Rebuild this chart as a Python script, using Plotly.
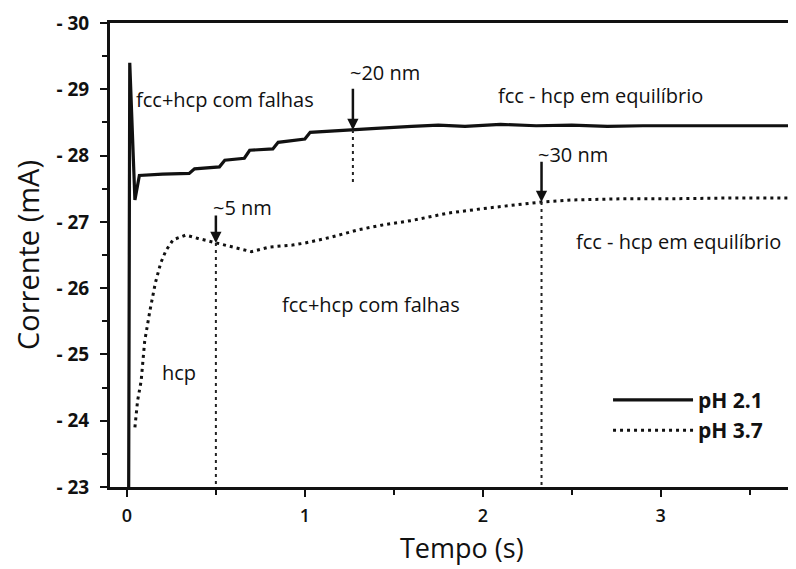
import numpy as np
import plotly.graph_objects as go

# ---- data ----
t_ph21 = [0.01, 0.016, 0.045, 0.07, 0.20, 0.35, 0.38, 0.52, 0.55, 0.66, 0.69, 0.82, 0.85,
          1.00, 1.03, 1.25, 1.40, 1.60, 1.75, 1.90, 2.10, 2.30, 2.50, 2.70, 2.90, 3.20, 3.50, 3.80]
i_ph21 = [-23.0, -29.4, -27.33, -27.70, -27.72, -27.73, -27.80, -27.83, -27.93, -27.96, -28.08,
          -28.10, -28.20, -28.25, -28.35, -28.38, -28.41, -28.44, -28.46, -28.44, -28.47, -28.45,
          -28.46, -28.44, -28.45, -28.45, -28.45, -28.45]

t_ph37 = [0.045, 0.06, 0.08, 0.10, 0.13, 0.16, 0.19, 0.22, 0.26, 0.33, 0.40, 0.50, 0.60, 0.70,
          0.80, 0.93, 1.00, 1.15, 1.30, 1.43, 1.60, 1.80, 2.00, 2.20, 2.33, 2.50, 2.80, 3.10, 3.40, 3.80]
i_ph37 = [-23.9, -24.3, -24.6, -25.2, -25.67, -26.08, -26.38, -26.57, -26.73, -26.80, -26.75,
          -26.68, -26.62, -26.55, -26.62, -26.65, -26.68, -26.77, -26.88, -26.95, -27.02, -27.13,
          -27.20, -27.26, -27.30, -27.33, -27.35, -27.35, -27.36, -27.36]

series_names = ["pH 2.1", "pH 3.7"]

y_tickvals = [-30, -29, -28, -27, -26, -25, -24, -23]
y_ticktext = ["- 30", "- 29", "- 28", "- 27", "- 26", "- 25", "- 24", "- 23"]
x_tickvals = [0, 1, 2, 3]
x_ticktext = ["0", "1", "2", "3"]

# thickness markers: time, label, which curve, arrow tail current, label current, dashed line end
event_times = [0.5, 1.27, 2.33]
event_labels = ["~5 nm", "~20 nm", "~30 nm"]
event_curve = ["pH 3.7", "pH 2.1", "pH 3.7"]
event_tail = [-27.12, -29.03, -27.93]
event_label_y = [-27.22, -29.26, -28.02]
event_line_end = [-23.0, -27.55, -23.0]

# region labels: text, x, y, xanchor
region_texts = ["fcc+hcp com falhas", "fcc - hcp em equilíbrio", "fcc - hcp em equilíbrio",
                "fcc+hcp com falhas", "hcp"]
region_x = [0.04, 2.66, 3.10, 1.37, 0.29]
region_y = [-28.84, -28.90, -26.70, -25.75, -24.73]
region_anchor = ["left", "center", "center", "center", "center"]

FONT = "Open Sans"
INK = "#111111"

fig = go.Figure()
fig.add_trace(go.Scatter(x=t_ph21, y=i_ph21, mode="lines", name=series_names[0],
                         line=dict(color=INK, width=3.2)))
fig.add_trace(go.Scatter(x=t_ph37, y=i_ph37, mode="lines", name=series_names[1],
                         line=dict(color=INK, width=3, dash="3px,4px")))

curves = {"pH 2.1": (t_ph21, i_ph21), "pH 3.7": (t_ph37, i_ph37)}
for t, lab, cv, tail, ly, yend in zip(event_times, event_labels, event_curve, event_tail,
                                      event_label_y, event_line_end):
    tx, ty = curves[cv]
    tip = float(np.interp(t, tx, ty))
    fig.add_shape(type="line", x0=t, x1=t, y0=tip, y1=yend, xref="x", yref="y",
                  line=dict(color="#222", width=2, dash="3px,4px"))
    fig.add_annotation(x=t, y=tip, ax=t, ay=tail, xref="x", yref="y", axref="x", ayref="y",
                       text="", showarrow=True, arrowhead=2, arrowsize=0.9, arrowwidth=2.5,
                       arrowcolor=INK)
    fig.add_annotation(x=t - 0.03, y=ly, xref="x", yref="y", text=lab, showarrow=False,
                       xanchor="left", yanchor="middle",
                       font=dict(family=FONT, size=20, color=INK))

for txt, x, y, anc in zip(region_texts, region_x, region_y, region_anchor):
    fig.add_annotation(x=x, y=y, xref="x", yref="y", text=txt, showarrow=False, xanchor=anc,
                       font=dict(family=FONT, size=20, color=INK))

# x-axis title, placed slightly right of the plot centre as in the original
fig.add_annotation(x=0.513, y=-0.131, xref="paper", yref="paper", text="Tempo (s)",
                   showarrow=False, xanchor="center", yanchor="middle",
                   font=dict(family=FONT, size=27, color=INK))

# page body has an 8px margin, so the figure is sized/offset to land on the 796x569 frame
fig.update_layout(
    width=788, height=561,
    margin=dict(l=102, r=0, t=15, b=82),
    paper_bgcolor="white", plot_bgcolor="white",
    font=dict(family=FONT, color=INK),
    legend=dict(x=0.726, y=0.231, xanchor="left", yanchor="top", bgcolor="rgba(0,0,0,0)",
                itemwidth=80, tracegroupgap=0,
                font=dict(family=FONT, size=21, color=INK, weight=700)),
    showlegend=True,
)
fig.update_xaxes(range=[-0.095, 3.76], tickvals=x_tickvals, ticktext=x_ticktext,
                 showline=True, linecolor=INK, linewidth=3, mirror=True, showgrid=False,
                 zeroline=False, ticks="outside", ticklen=7, tickwidth=2, tickcolor=INK,
                 ticklabelstandoff=3, automargin=False,
                 minor=dict(dtick=0.5, tick0=0, ticks="outside", ticklen=5, tickwidth=2, tickcolor=INK),
                 tickfont=dict(family=FONT, size=18, color=INK, weight=600))
fig.update_yaxes(range=[-23, -30], tickvals=y_tickvals, ticktext=y_ticktext,
                 showline=True, linecolor=INK, linewidth=3, mirror=False, showgrid=False,
                 zeroline=False, ticks="outside", ticklen=7, tickwidth=2, tickcolor=INK,
                 ticklabelstandoff=7, automargin=False,
                 minor=dict(dtick=0.5, tick0=-30, ticks="outside", ticklen=5, tickwidth=2, tickcolor=INK),
                 tickfont=dict(family=FONT, size=19, color=INK, weight=700),
                 title=dict(text="Corrente (mA)", font=dict(family=FONT, size=29, color=INK), standoff=10))

fig.write_html("out.html")
